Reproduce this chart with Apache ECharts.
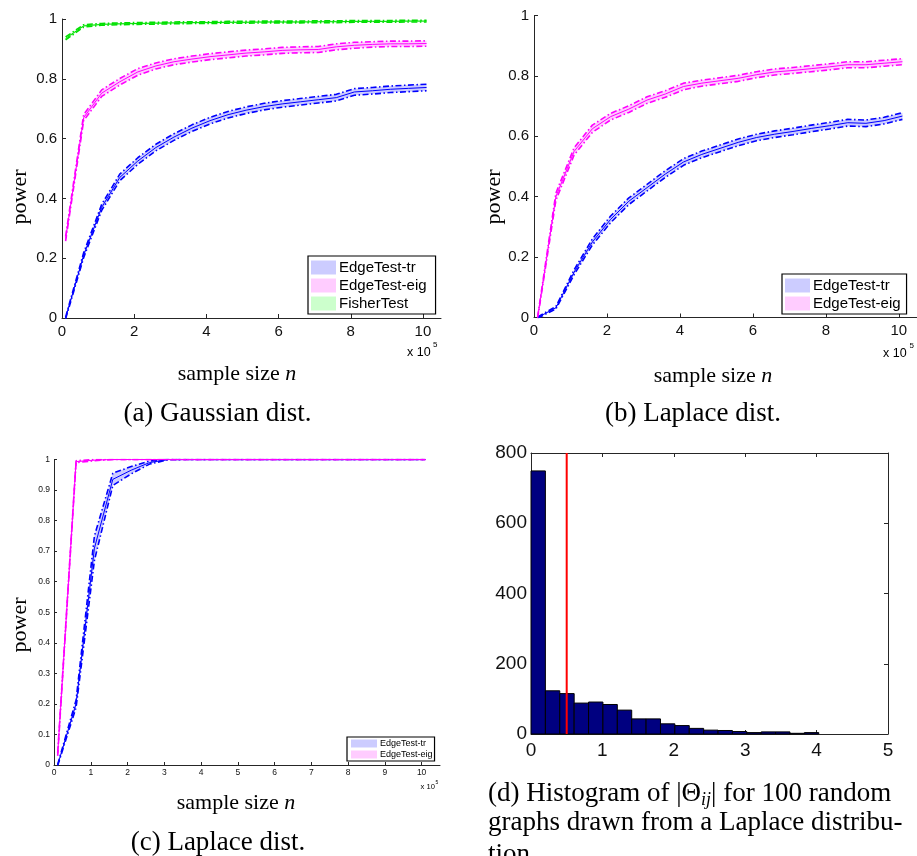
<!DOCTYPE html>
<html><head><meta charset="utf-8">
<script src="https://cdn.jsdelivr.net/npm/echarts@6/dist/echarts.min.js"></script>
<style>html,body{margin:0;padding:0;background:#fff}#c{width:917px;height:856px}</style>
</head><body><div id="c"></div>
<script>
// ---------- DATA ----------
// sample size n, in units of 10^5
const sampleN = [0.1,0.6,1.1,1.6,2.1,2.6,3.1,3.6,4.1,4.6,5.1,5.6,6.1,6.6,7.1,7.6,8.1,8.6,9.1,9.6,10.1];

// (a) Gaussian dist.
const aTrMean  = [0.0,0.21,0.37,0.47,0.525,0.57,0.605,0.635,0.66,0.68,0.695,0.707,0.716,0.723,0.73,0.737,0.756,0.76,0.765,0.768,0.771];
const aTrHalf  = [0.003,0.008,0.01,0.011,0.011,0.011,0.011,0.011,0.011,0.011,0.011,0.011,0.011,0.011,0.011,0.011,0.011,0.011,0.011,0.011,0.011];
const aEigMean = [0.265,0.67,0.752,0.79,0.823,0.843,0.857,0.866,0.874,0.88,0.886,0.89,0.895,0.897,0.898,0.907,0.912,0.915,0.917,0.917,0.918];
const aEigHalf = [0.008,0.01,0.011,0.011,0.011,0.01,0.01,0.01,0.01,0.01,0.01,0.01,0.01,0.01,0.01,0.01,0.01,0.009,0.009,0.009,0.009];
const aFisherMean = [0.935,0.977,0.982,0.984,0.985,0.986,0.987,0.988,0.988,0.989,0.989,0.99,0.99,0.99,0.991,0.991,0.992,0.992,0.992,0.993,0.993];
const aFisherHalf = [0.005,0.004,0.003,0.003,0.003,0.003,0.003,0.003,0.003,0.003,0.003,0.003,0.003,0.003,0.003,0.003,0.003,0.003,0.003,0.003,0.003];

// (b) Laplace dist.
const bTrMean  = [0.0,0.032,0.15,0.25,0.325,0.385,0.43,0.475,0.515,0.54,0.56,0.58,0.596,0.607,0.616,0.626,0.635,0.645,0.643,0.652,0.667];
const bTrHalf  = [0.002,0.004,0.008,0.01,0.011,0.011,0.011,0.011,0.011,0.011,0.011,0.011,0.011,0.011,0.011,0.011,0.011,0.011,0.011,0.011,0.011];
const bEigMean = [0.0,0.40,0.55,0.625,0.665,0.69,0.72,0.74,0.765,0.776,0.784,0.792,0.804,0.813,0.818,0.824,0.83,0.837,0.837,0.842,0.847];
const bEigHalf = [0.003,0.012,0.012,0.012,0.011,0.011,0.011,0.011,0.011,0.01,0.01,0.01,0.01,0.01,0.01,0.01,0.01,0.01,0.01,0.01,0.01];

// (c) Laplace dist.
const cTrMean  = [0.0,0.2,0.71,0.935,0.965,0.99,1,1,1,1,1,1,1,1,1,1,1,1,1,1,1];
const cTrHalf  = [0.002,0.012,0.04,0.02,0.012,0.005,0.001,0,0,0,0,0,0,0,0,0,0,0,0,0,0];
const cEigMean = [0.035,0.993,0.998,1,1,1,1,1,1,1,1,1,1,1,1,1,1,1,1,1,1];
const cEigHalf = [0.005,0.003,0.002,0,0,0,0,0,0,0,0,0,0,0,0,0,0,0,0,0,0];

// (d) Histogram of |Theta_ij|
const histCounts = [749,123,115,88,91,84,68,43,43,29,24,16,11,10,7,4,6,6,2,4];
const histBinWidth = 0.2015;
const histThreshold = 0.5;

// tick labels
const powerTicks = [0,0.2,0.4,0.6,0.8,1];
const powerTicksC = [0,0.1,0.2,0.3,0.4,0.5,0.6,0.7,0.8,0.9,1];
const nTicksAB = [0,2,4,6,8,10];
const nTicksC = [0,1,2,3,4,5,6,7,8,9,10];
const histXTicks = [0,1,2,3,4,5];
const histYTicks = [0,200,400,600,800];

// ---------- STYLE ----------
const SERIF = '"Liberation Serif","Times New Roman",serif';
const SANS = '"Liberation Sans",Arial,Helvetica,sans-serif';
const AX = '#262626';
const BLUE = '#0000ff', MAG = '#ff00ff', GRN = '#00e000';
const BLUE_BAND = '#ccccff', MAG_BAND = '#ffccff', GRN_BAND = '#ccffcc';
const DASHDOT = [6, 2.5, 1.5, 2.5];

function bandSeries(gi, name, mean, half, fill) {
  return {
    type: 'custom', name, xAxisIndex: gi, yAxisIndex: gi, silent: true, z: 1, clip: true,
    itemStyle: { color: fill },
    data: [[sampleN[0], mean[0]]],
    renderItem: (params, api) => {
      const pts = [];
      for (let i = 0; i < sampleN.length; i++) pts.push(api.coord([sampleN[i], mean[i] + half[i]]));
      for (let i = sampleN.length - 1; i >= 0; i--) pts.push(api.coord([sampleN[i], mean[i] - half[i]]));
      return { type: 'polygon', shape: { points: pts }, style: { fill: fill } };
    }
  };
}
function lineSeries(gi, data, color, width, type, z) {
  return { type: 'line', xAxisIndex: gi, yAxisIndex: gi, data, symbol: 'none', silent: true, clip: true,
    lineStyle: { color, width, type }, itemStyle: { color }, z, animation: false };
}
function curve(gi, name, mean, half, color, band) {
  return [
    bandSeries(gi, name, mean, half, band),
    lineSeries(gi, sampleN.map((x, i) => [x, mean[i] - half[i]]), color, 1.6, DASHDOT, 3),
    lineSeries(gi, sampleN.map((x, i) => [x, mean[i] + half[i]]), color, 1.6, DASHDOT, 3),
    lineSeries(gi, sampleN.map((x, i) => [x, mean[i]]), color, 1, 'solid', 4)
  ];
}

function xAxisOf(gi, max, ticks, fs, margin, tickLen) {
  return { gridIndex: gi, type: 'value', min: 0, max,
    axisLine: { show: true, onZero: false, lineStyle: { color: AX, width: 1 } },
    axisTick: { show: true, inside: true, length: tickLen, customValues: ticks, lineStyle: { color: AX } },
    axisLabel: { customValues: ticks, fontSize: fs, fontFamily: SANS, color: '#111', margin },
    splitLine: { show: false } };
}
function yAxisOf(gi, max, ticks, fs, margin, tickLen) {
  return { gridIndex: gi, type: 'value', min: 0, max,
    axisLine: { show: true, onZero: false, lineStyle: { color: AX, width: 1 } },
    axisTick: { show: true, inside: true, length: tickLen, customValues: ticks, lineStyle: { color: AX } },
    axisLabel: { customValues: ticks, fontSize: fs, fontFamily: SANS, color: '#111', margin,
      formatter: v => String(Math.round(v * 100) / 100) },
    splitLine: { show: false } };
}
function legendOf(left, top, items, fs, iw, ih, gap, pad) {
  return { left, top, orient: 'vertical', selectedMode: false, icon: 'rect',
    itemWidth: iw, itemHeight: ih, itemGap: gap, padding: pad,
    borderColor: '#000', borderWidth: 1.2, backgroundColor: '#fff',
    textStyle: { fontFamily: SANS, fontSize: fs, color: '#000', padding: [0,0,0,-2] },
    data: items.map(([n, c]) => ({ name: n, itemStyle: { color: c } })) };
}
function txt(x, y, text, size, opt) {
  opt = opt || {};
  return { type: 'text', x, y, rotation: opt.rot || 0, silent: true, z: 10,
    style: Object.assign({ text, fontFamily: opt.family || SERIF, fontSize: size, fill: '#000',
      align: opt.align || 'center', verticalAlign: 'middle',
      textAlign: opt.align || 'center', textVerticalAlign: 'middle' }, opt.style || {}) };
}

const series = [].concat(
  curve(0, 'EdgeTest-tr', aTrMean, aTrHalf, BLUE, BLUE_BAND),
  curve(0, 'EdgeTest-eig', aEigMean, aEigHalf, MAG, MAG_BAND),
  curve(0, 'FisherTest', aFisherMean, aFisherHalf, GRN, GRN_BAND),
  curve(1, 'EdgeTest-tr', bTrMean, bTrHalf, BLUE, BLUE_BAND),
  curve(1, 'EdgeTest-eig', bEigMean, bEigHalf, MAG, MAG_BAND),
  curve(2, 'EdgeTest-tr', cTrMean, cTrHalf, BLUE, BLUE_BAND),
  curve(2, 'EdgeTest-eig', cEigMean, cEigHalf, MAG, MAG_BAND),
  [{
    type: 'custom', xAxisIndex: 3, yAxisIndex: 3, silent: true, z: 2,
    data: histCounts.map((c, i) => [i * histBinWidth, (i + 1) * histBinWidth, c]),
    encode: { x: [0, 1], y: 2 },
    renderItem: (params, api) => {
      const a = api.coord([api.value(0), api.value(2)]);
      const b = api.coord([api.value(1), 0]);
      return { type: 'rect', shape: { x: a[0], y: a[1], width: b[0] - a[0], height: b[1] - a[1] },
        style: { fill: '#000080', stroke: '#000', lineWidth: 1 } };
    }
  }, {
    type: 'line', xAxisIndex: 3, yAxisIndex: 3, symbol: 'none', silent: true, z: 5,
    data: [[histThreshold, 0], [histThreshold, histYTicks[histYTicks.length - 1]]],
    lineStyle: { color: '#ff0000', width: 2 }
  }]
);

const option = {
  animation: false,
  backgroundColor: '#fff',
  grid: [
    { left: 62, top: 19, width: 379, height: 299 },
    { left: 534, top: 15.5, width: 383, height: 302 },
    { left: 54, top: 459.5, width: 386, height: 305.5 },
    { left: 531, top: 453, width: 357, height: 281 }
  ],
  xAxis: [
    xAxisOf(0, 10.5, nTicksAB, 15, 6, 4),
    xAxisOf(1, 10.5, nTicksAB, 15, 6, 4),
    xAxisOf(2, 10.5, nTicksC, 8.5, 3, 3),
    Object.assign(xAxisOf(3, 5, histXTicks, 19, 7, 4), { position: 'bottom' }),
    { gridIndex: 3, type: 'value', min: 0, max: 5, position: 'top',
      axisLine: { show: true, onZero: false, lineStyle: { color: AX } },
      axisTick: { show: true, inside: true, length: 4, customValues: histXTicks, lineStyle: { color: AX } },
      axisLabel: { show: false }, splitLine: { show: false } }
  ],
  yAxis: [
    yAxisOf(0, 1, powerTicks, 15, 5, 4),
    yAxisOf(1, 1, powerTicks, 15, 5, 4),
    yAxisOf(2, 1, powerTicksC, 8.5, 4, 3),
    yAxisOf(3, 800, histYTicks, 19, 4, 4),
    { gridIndex: 3, type: 'value', min: 0, max: 800, position: 'right',
      axisLine: { show: true, onZero: false, lineStyle: { color: AX } },
      axisTick: { show: true, inside: true, length: 4, customValues: histYTicks, lineStyle: { color: AX } },
      axisLabel: { show: false }, splitLine: { show: false } }
  ],
  legend: [
    legendOf(308, 256, [['EdgeTest-tr', BLUE_BAND], ['EdgeTest-eig', MAG_BAND], ['FisherTest', GRN_BAND]], 15, 25, 14, 3, [4, 9, 3, 3]),
    legendOf(782, 274, [['EdgeTest-tr', BLUE_BAND], ['EdgeTest-eig', MAG_BAND]], 15, 25, 14, 3, [4, 6, 3, 3]),
    legendOf(347, 737, [['EdgeTest-tr', BLUE_BAND], ['EdgeTest-eig', MAG_BAND]], 9, 26, 8, 2, [2, 2, 2, 4])
  ],
  series,
  graphic: [
    // y axis titles
    txt(20, 197, 'power', 22, { rot: Math.PI / 2 }),
    txt(494, 197, 'power', 22, { rot: Math.PI / 2 }),
    txt(20, 625, 'power', 22, { rot: Math.PI / 2 }),
    // x axis titles
    txt(237, 374, 'sample size {i|n}', 22, { style: { rich: { i: { fontStyle: 'italic', fontFamily: SERIF, fontSize: 22 } } } }),
    txt(713, 376, 'sample size {i|n}', 22, { style: { rich: { i: { fontStyle: 'italic', fontFamily: SERIF, fontSize: 22 } } } }),
    txt(236, 803, 'sample size {i|n}', 22, { style: { rich: { i: { fontStyle: 'italic', fontFamily: SERIF, fontSize: 22 } } } }),
    // x 10^5
    txt(407, 353, 'x 10', 12.5, { family: SANS, align: 'left' }),
    txt(433, 345, '5', 8, { family: SANS, align: 'left' }),
    txt(883, 354, 'x 10', 12.5, { family: SANS, align: 'left' }),
    txt(909.5, 346, '5', 8, { family: SANS, align: 'left' }),
    txt(420.5, 787, 'x 10', 7.6, { family: SANS, align: 'left' }),
    txt(435.5, 783, '5', 5, { family: SANS, align: 'left' }),
    // captions
    txt(217.5, 414, '(a) Gaussian dist.', 27),
    txt(693, 414, '(b) Laplace dist.', 27),
    txt(218, 843, '(c) Laplace dist.', 27),
    txt(488, 794, '(d) Histogram of |Θ{s|ij}| for 100 random', 27,
      { align: 'left', style: { rich: { s: { fontStyle: 'italic', fontFamily: SERIF, fontSize: 18, padding: [12, 0, 0, 0] } } } }),
    txt(488, 823, 'graphs drawn from a Laplace distribu-', 27, { align: 'left' }),
    txt(488, 855, 'tion.', 27, { align: 'left' })
  ]
};

const chart = echarts.init(document.getElementById('c'), null, { renderer: 'canvas' });
chart.setOption(option);
</script>
</body></html>
